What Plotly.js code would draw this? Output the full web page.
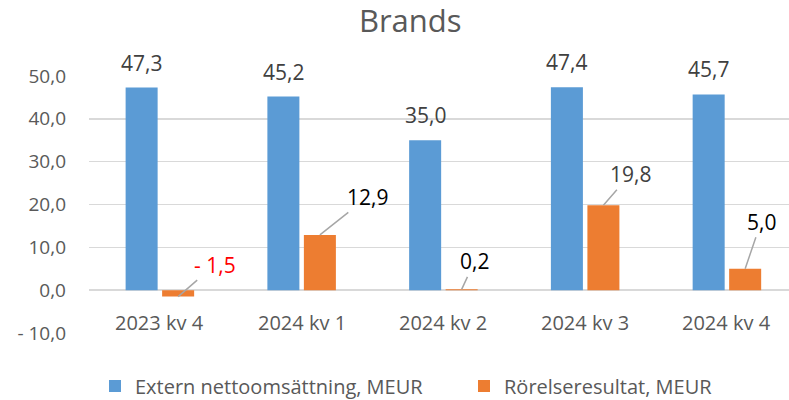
<!DOCTYPE html>
<html>
<head>
<meta charset="utf-8">
<script src="https://cdn.plot.ly/plotly-3.0.1.min.js"></script>
<style>html,body{margin:0;padding:0;background:#fff;}#chart{width:789px;height:400px;}</style>
</head>
<body>
<div id="chart"></div>
<script>
// ---- data ----
var categories = ["2023 kv 4", "2024 kv 1", "2024 kv 2", "2024 kv 3", "2024 kv 4"];
var seriesNames = ["Extern nettoomsättning, MEUR", "Rörelseresultat, MEUR"];
var nettoomsattning = [47.3, 45.2, 35.0, 47.4, 45.7];
var rorelseresultat = [-1.5, 12.9, 0.2, 19.8, 5.0];
var nettoLabels = ["47,3", "45,2", "35,0", "47,4", "45,7"];
var resultatLabels = ["- 1,5", "12,9", "0,2", "19,8", "5,0"];
var yTickVals = [-10, 0, 10, 20, 30, 40, 50];
var yTickText = ["- 10,0", "0,0", "10,0", "20,0", "30,0", "40,0", "50,0"];

// ---- styling ----
var FONT = "Open Sans, Noto Sans, sans-serif";
var GREY = "#595959";
var bargap = 0.485, bargroupgap = 0.123;
var orangeOffset = (1 - bargap) / 4;
var resultatLabelColors = ["#ff0000", "#000000", "#000000", "#404040", "#000000"];
var resultatLabelOffsets = [[37, -32], [48, -38], [13, -28], [27, -31], [16, -47]];

var traces = [
  {type: "bar", x: categories, y: nettoomsattning, name: seriesNames[0],
   marker: {color: "#5b9bd5"}, hoverinfo: "none", legend: "legend"},
  {type: "bar", x: categories, y: rorelseresultat, name: seriesNames[1],
   marker: {color: "#ed7d31"}, hoverinfo: "none", legend: "legend2"}
];

var annotations = [];
categories.forEach(function (c, i) {
  annotations.push({xref: "x", yref: "y", x: i, y: 0, text: c, showarrow: false,
    yanchor: "middle", yshift: -32, font: {family: FONT, size: 20, color: GREY}});
  annotations.push({xref: "x", yref: "y", x: i - orangeOffset, y: nettoomsattning[i],
    text: nettoLabels[i], showarrow: false, yanchor: "middle", yshift: 25,
    font: {family: FONT, size: 21, color: "#404040"}});
  annotations.push({xref: "x", yref: "y", x: i + orangeOffset, y: rorelseresultat[i],
    text: resultatLabels[i], showarrow: true, arrowhead: 0, arrowwidth: 1.5,
    arrowcolor: "#a6a6a6", ax: resultatLabelOffsets[i][0], ay: resultatLabelOffsets[i][1],
    standoff: 0, font: {family: FONT, size: 21, color: resultatLabelColors[i]}});
});

function legendAt(px) {
  return {orientation: "h", xref: "container", yref: "container", x: px / 789,
    xanchor: "left", y: 1 - 386 / 400, yanchor: "middle", bgcolor: "rgba(0,0,0,0)",
    font: {family: FONT, size: 20, color: GREY}};
}

var layout = {
  width: 789, height: 400,
  margin: {l: 89, r: 0, t: 76, b: 67},
  paper_bgcolor: "#ffffff", plot_bgcolor: "#ffffff",
  barmode: "group", bargap: bargap, bargroupgap: bargroupgap,
  title: {text: "Brands", x: 0.52, xanchor: "center", xref: "container",
    y: 1 - 21 / 400, yanchor: "middle", yref: "container",
    font: {family: FONT, size: 31, color: GREY}},
  xaxis: {type: "category", range: [-0.5, 4.438], showticklabels: false, showgrid: false,
    zeroline: false, showline: false, ticks: "", fixedrange: true},
  yaxis: {range: [-10, 50], tickvals: yTickVals, ticktext: yTickText, showgrid: true,
    gridcolor: "#d9d9d9", gridwidth: 1.5, zeroline: true, zerolinecolor: "#d9d9d9",
    zerolinewidth: 1.5, showline: false, ticks: "", ticklabelstandoff: 22,
    tickfont: {family: FONT, size: 19, color: GREY}, fixedrange: true},
  showlegend: true,
  legend: legendAt(95),
  legend2: legendAt(464),
  annotations: annotations
};

Plotly.newPlot("chart", traces, layout, {staticPlot: true, displayModeBar: false});
</script>
</body>
</html>
